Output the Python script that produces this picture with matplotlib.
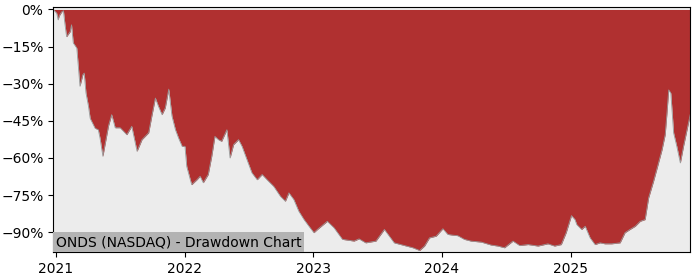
import matplotlib
matplotlib.use("Agg")
import matplotlib.pyplot as plt
import matplotlib.dates as mdates
import pandas as pd

# Drawdown readings (date, % below peak)
fechas = [
    "2020-12-24", "2021-01-03", "2021-01-07", "2021-01-10", "2021-01-17", "2021-01-22",
    "2021-01-26", "2021-01-31", "2021-02-10", "2021-02-14", "2021-02-19", "2021-03-01",
    "2021-03-10", "2021-03-18", "2021-03-22", "2021-03-27", "2021-04-03", "2021-04-08",
    "2021-04-22", "2021-05-01", "2021-05-06", "2021-05-14", "2021-05-30", "2021-06-08",
    "2021-06-18", "2021-07-02", "2021-07-21", "2021-08-04", "2021-08-19", "2021-09-02",
    "2021-09-21", "2021-09-30", "2021-10-10", "2021-10-19", "2021-10-29", "2021-11-07",
    "2021-11-17", "2021-11-26", "2021-12-06", "2021-12-15", "2021-12-25", "2022-01-02",
    "2022-01-07", "2022-01-21", "2022-02-05", "2022-02-14", "2022-02-23", "2022-03-09",
    "2022-03-19", "2022-03-28", "2022-04-07", "2022-04-16", "2022-05-01", "2022-05-10",
    "2022-05-20", "2022-06-03", "2022-06-13", "2022-06-27", "2022-07-11", "2022-07-26",
    "2022-08-09", "2022-08-23", "2022-09-11", "2022-09-30", "2022-10-14", "2022-10-24",
    "2022-11-07", "2022-11-21", "2022-12-06", "2022-12-20", "2023-01-03", "2023-01-13",
    "2023-02-10", "2023-03-01", "2023-03-25", "2023-04-27", "2023-05-11", "2023-05-30",
    "2023-06-28", "2023-07-22", "2023-08-05", "2023-08-19", "2023-09-17", "2023-10-11",
    "2023-10-30", "2023-11-13", "2023-11-27", "2023-12-16", "2024-01-04", "2024-01-18",
    "2024-02-01", "2024-02-15", "2024-03-05", "2024-03-24", "2024-04-22", "2024-05-20",
    "2024-06-08", "2024-06-27", "2024-07-21", "2024-08-09", "2024-09-02", "2024-09-30",
    "2024-10-28", "2024-11-16", "2024-12-05", "2024-12-19", "2025-01-03", "2025-01-13",
    "2025-01-18", "2025-02-01", "2025-02-11", "2025-02-25", "2025-03-11", "2025-03-25",
    "2025-04-08", "2025-04-27", "2025-05-21", "2025-06-04", "2025-06-18", "2025-07-03",
    "2025-07-17", "2025-07-31", "2025-08-10", "2025-08-24", "2025-09-02", "2025-09-17",
    "2025-09-26", "2025-10-01", "2025-10-06", "2025-10-12", "2025-10-20", "2025-10-29",
    "2025-11-08", "2025-11-17", "2025-11-27", "2025-12-06",
]
caida = [
    0.0, -1.5, -4.2, -2.6, -1.0, -0.5,
    -5.5, -11.0, -9.0, -6.2, -13.5, -15.6,
    -31.0, -26.4, -25.7, -33.7, -39.0, -44.0,
    -48.0, -48.6, -52.0, -59.3, -47.0, -42.5,
    -47.8, -47.8, -50.6, -47.2, -57.3, -52.6,
    -49.8, -43.0, -35.8, -39.2, -42.5, -39.8,
    -32.2, -43.0, -48.6, -52.0, -55.3, -55.3,
    -63.4, -70.8, -68.8, -67.4, -70.0, -66.7,
    -59.3, -51.3, -52.6, -53.3, -48.6, -60.0,
    -54.6, -52.6, -55.3, -60.7, -66.0, -68.8,
    -66.7, -68.8, -71.5, -75.5, -77.5, -74.1,
    -76.8, -81.5, -84.9, -87.6, -90.2, -88.9,
    -85.6, -88.2, -92.9, -93.6, -92.7, -94.3,
    -93.6, -88.9, -91.6, -94.3, -95.4, -96.3,
    -97.4, -95.6, -92.3, -91.6, -88.6, -90.9,
    -91.2, -91.4, -92.9, -93.6, -94.0, -95.2,
    -95.6, -96.3, -93.6, -95.4, -95.0, -95.6,
    -94.7, -95.6, -95.0, -90.2, -83.3, -84.9,
    -86.9, -88.9, -87.6, -92.3, -95.0, -94.3,
    -94.7, -94.7, -94.3, -90.2, -88.9, -87.6,
    -85.6, -84.9, -76.1, -69.4, -64.7, -56.7,
    -50.6, -41.9, -32.5, -33.8, -49.9, -55.3,
    -62.0, -55.3, -48.6, -42.5,
]

niveles = [0, -15, -30, -45, -60, -75, -90]
anios = ["2021", "2022", "2023", "2024", "2025"]

fechas = pd.to_datetime(fechas)

fig, grafica = plt.subplots(figsize=(7, 2.8), dpi=100)
fig.subplots_adjust(left=0.076, right=0.986, top=0.975, bottom=0.1)

grafica.set_facecolor("#ececec")
grafica.fill_between(fechas, caida, 0, color="#b03030", linewidth=0)
grafica.plot(fechas, caida, color="#999999", linewidth=0.6)

grafica.set_xlim(fechas[0], fechas[-1])
grafica.set_ylim(-98, 1)

grafica.set_yticks(niveles)
grafica.set_yticklabels([f"{n}%".replace("-", "\u2212") for n in niveles])
grafica.set_xticks(pd.to_datetime([a + "-01-01" for a in anios]))
grafica.xaxis.set_major_formatter(mdates.DateFormatter("%Y"))

grafica.text(0.004, 0.012, "ONDS (NASDAQ) - Drawdown Chart", transform=grafica.transAxes,
             fontsize=10, ha="left", va="bottom",
             bbox=dict(facecolor="#b3b3b3", edgecolor="none", pad=2))

fig.savefig("out.png")
